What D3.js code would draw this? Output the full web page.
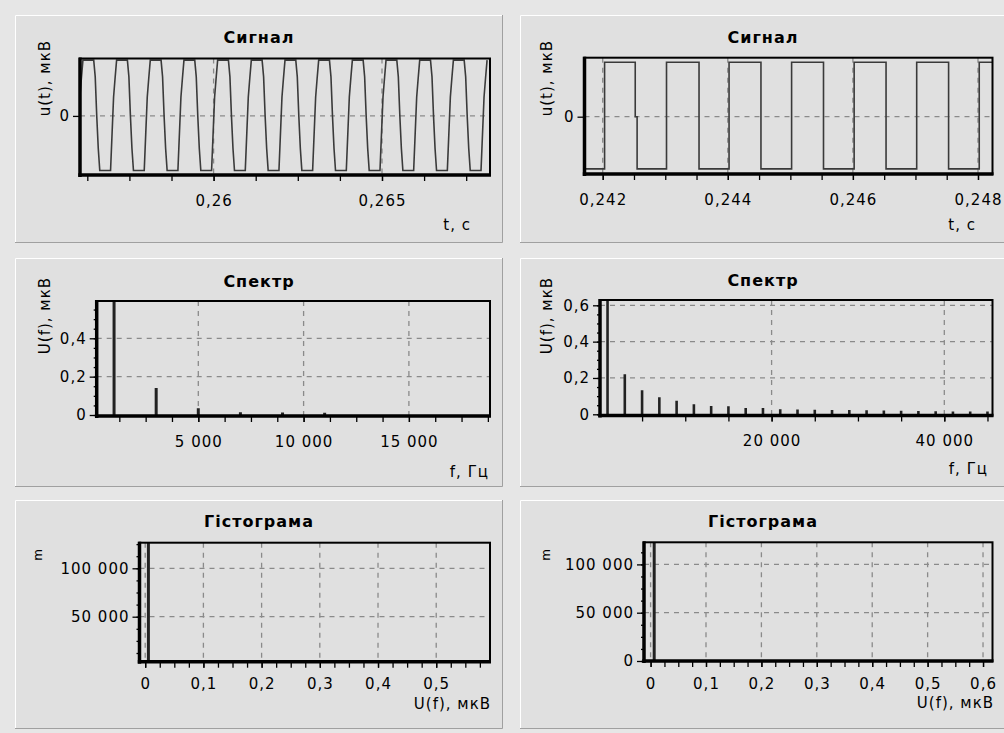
<!DOCTYPE html>
<html>
<head>
<meta charset="utf-8">
<script src="https://cdn.jsdelivr.net/npm/d3@7"></script>
<style>
  html, body { margin: 0; padding: 0; background: #e6e6e6; }
  svg { display: block; }
</style>
</head>
<body>
<svg id="chart" width="1004" height="733"></svg>
<script>
// ---------------- data ----------------

// Signal 1 (clipped sine, 1 kHz): one cycle, [ms from fall start, µV]
const sig1CycleShape = [
  [0, 0.5], [0.045, 0.35], [0.09, 0.0], [0.135, -0.29], [0.18, -0.49],
  [0.5, -0.49], [0.545, -0.16], [0.59, 0.17], [0.635, 0.34], [0.68, 0.5]
];
// start time of each cycle (s)
const sig1CycleStarts = [0.25544, 0.25644, 0.25744, 0.25844, 0.25944, 0.26044, 0.26144,
                         0.26244, 0.26344, 0.26444, 0.26544, 0.26644, 0.26744];
const sig1TimeTicks = [0.26, 0.265];
const sig1ValueTicks = [0];

// Signal 2 (square wave, 1 kHz): level before the first edge, edge times (s), level after each edge (µV)
const sig2StartLevel = -0.48;
const sig2EdgeTimes = [0.24203, 0.24252, 0.24255, 0.24302, 0.24354, 0.24402, 0.24453,
                       0.24502, 0.24553, 0.24602, 0.24653, 0.24702, 0.24753, 0.24802];
const sig2EdgeLevels = [0.5, 0, -0.48, 0.5, -0.48, 0.5, -0.48,
                        0.5, -0.48, 0.5, -0.48, 0.5, -0.48, 0.5];
const sig2TimeTicks = [0.242, 0.244, 0.246, 0.248];
const sig2ValueTicks = [0];

// Spectrum 1
const spec1Freq = [1000, 3000, 5000, 7000, 9000, 11000];
const spec1Amp  = [0.61, 0.141, 0.035, 0.014, 0.013, 0.012];
const spec1FreqTicks = [5000, 10000, 15000];
const spec1AmpTicks = [0, 0.2, 0.4];

// Spectrum 2
const spec2Freq = [1000, 3000, 5000, 7000, 9000, 11000, 13000, 15000, 17000, 19000, 21000, 23000,
                   25000, 27000, 29000, 31000, 33000, 35000, 37000, 39000, 41000, 43000, 45000];
const spec2Amp  = [0.64, 0.220, 0.132, 0.094, 0.075, 0.055, 0.046, 0.044, 0.035, 0.035, 0.028, 0.027,
                   0.025, 0.024, 0.023, 0.022, 0.021, 0.020, 0.018, 0.017, 0.016, 0.015, 0.015];
const spec2FreqTicks = [20000, 40000];
const spec2AmpTicks = [0, 0.2, 0.4, 0.6];

// Histograms of spectral amplitude
const hist1Bins = [0.0055];
const hist1Counts = [131000];
const hist1ValueTicks = [0, 0.1, 0.2, 0.3, 0.4, 0.5];
const hist1CountTicks = [50000, 100000];

const hist2Bins = [0.0065];
const hist2Counts = [131000];
const hist2ValueTicks = [0, 0.1, 0.2, 0.3, 0.4, 0.5, 0.6];
const hist2CountTicks = [0, 50000, 100000];

// ---------------- drawing ----------------
const svg = d3.select("#chart");
const FONT = "'DejaVu Sans', Verdana, sans-serif";
const locale = d3.formatLocale({ decimal: ",", thousands: "\u00a0", grouping: [3], currency: ["", ""] });
const fmt = locale.format(",~f");

svg.append("rect").attr("width", 1004).attr("height", 733).attr("fill", "#e6e6e6");

function drawPanel(x, y, w, h) {
  svg.append("rect").attr("x", x).attr("y", y).attr("width", w).attr("height", h).attr("fill", "#e0e0e0");
  svg.append("path").attr("d", `M${x + 0.5},${y + h} V${y + 0.5} H${x + w}`)
    .attr("fill", "none").attr("stroke", "#ffffff").attr("stroke-width", 1);
  svg.append("path").attr("d", `M${x + w - 0.5},${y} V${y + h - 0.5} H${x}`)
    .attr("fill", "none").attr("stroke", "#a0a0a0").attr("stroke-width", 1);
}

function stepValues(domain, step) {
  const lo = Math.ceil(domain[0] / step - 1e-9), hi = Math.floor(domain[1] / step + 1e-9);
  return d3.range(lo, hi + 1).map(k => +(k * step).toPrecision(10));
}

let clipId = 0;
function drawPlot(c) {
  const x = d3.scaleLinear().domain(c.xDomain).range([c.x0, c.x1]);
  const y = d3.scaleLinear().domain(c.yDomain).range([c.y1, c.y0]);
  const g = svg.append("g");

  // title
  g.append("text").attr("x", c.titleX).attr("y", c.titleY)
    .attr("text-anchor", "middle").attr("font-family", FONT).attr("font-weight", "bold")
    .attr("font-size", 16).attr("letter-spacing", 1).attr("fill", "#000").text(c.title);

  // y axis label (rotated)
  g.append("text").attr("transform", `translate(${c.yLabelX},${c.yLabelY}) rotate(-90)`)
    .attr("text-anchor", "end").attr("font-family", FONT).attr("font-size", c.yLabelSize || 15)
    .attr("letter-spacing", 1).attr("fill", "#000").text(c.yLabel);

  // x axis label
  g.append("text").attr("x", c.xLabelX).attr("y", c.xLabelY)
    .attr("text-anchor", "end").attr("font-family", FONT).attr("font-size", 15)
    .attr("letter-spacing", 1).attr("fill", "#000").text(c.xLabel);

  // grid
  const grid = g.append("g").attr("stroke", "#8a8a8a").attr("stroke-width", 1.3)
    .attr("stroke-dasharray", "5,5");
  c.xGrid.forEach(v => grid.append("line").attr("x1", x(v)).attr("x2", x(v)).attr("y1", c.y0).attr("y2", c.y1));
  c.yGrid.forEach(v => grid.append("line").attr("x1", c.x0).attr("x2", c.x1).attr("y1", y(v)).attr("y2", y(v)));

  // ticks: minor
  if (c.xMinor) {
    g.append("g").attr("transform", `translate(0,${c.y1})`)
      .call(d3.axisBottom(x).tickValues(stepValues(c.xDomain, c.xMinor)).tickSize(6).tickFormat(""))
      .call(a => a.select(".domain").remove())
      .call(a => a.selectAll("line").attr("stroke", "#000").attr("stroke-width", 1.3));
  }
  if (c.yMinor) {
    g.append("g").attr("transform", `translate(${c.x0},0)`)
      .call(d3.axisLeft(y).tickValues(stepValues(c.yDomain, c.yMinor)).tickSize(3).tickFormat(""))
      .call(a => a.select(".domain").remove())
      .call(a => a.selectAll("line").attr("stroke", "#000").attr("stroke-width", 1.3));
  }
  // ticks: major with labels
  g.append("g").attr("transform", `translate(0,${c.y1})`)
    .call(d3.axisBottom(x).tickValues(c.xTicks).tickSize(6).tickPadding(c.xPad || 14).tickFormat(fmt))
    .call(a => a.select(".domain").remove())
    .call(a => a.selectAll("line").attr("stroke", "#000").attr("stroke-width", 1.3))
    .call(a => a.selectAll("text").attr("font-family", FONT).attr("font-size", 15)
      .attr("letter-spacing", 1).attr("fill", "#000"));
  g.append("g").attr("transform", `translate(${c.x0},0)`)
    .call(d3.axisLeft(y).tickValues(c.yTicks).tickSize(7).tickPadding(3).tickFormat(fmt))
    .call(a => a.select(".domain").remove())
    .call(a => a.selectAll("line").attr("stroke", "#000").attr("stroke-width", 1.3))
    .call(a => a.selectAll("text").attr("font-family", FONT).attr("font-size", 15)
      .attr("letter-spacing", 1).attr("fill", "#000"));

  // clipped data layer
  const id = "clip" + (clipId++);
  svg.append("clipPath").attr("id", id).append("rect")
    .attr("x", c.x0).attr("y", c.y0).attr("width", c.x1 - c.x0).attr("height", c.y1 - c.y0);
  const data = g.append("g").attr("clip-path", `url(#${id})`);
  c.draw(data, x, y);

  // frame: thin top/right, heavy left/bottom
  g.append("rect").attr("x", c.x0).attr("y", c.y0).attr("width", c.x1 - c.x0).attr("height", c.y1 - c.y0)
    .attr("fill", "none").attr("stroke", "#000").attr("stroke-width", 2);
  g.append("line").attr("x1", c.x0).attr("x2", c.x0).attr("y1", c.y0 - 1).attr("y2", c.y1 + 2)
    .attr("stroke", "#000").attr("stroke-width", 3.5);
  g.append("line").attr("x1", c.x0 - 1.7).attr("x2", c.x1 + 1).attr("y1", c.y1).attr("y2", c.y1)
    .attr("stroke", "#000").attr("stroke-width", 3.5);
}

// panels
drawPanel(15, 15, 488, 228);
drawPanel(520, 15, 488, 228);
drawPanel(15, 258, 488, 229);
drawPanel(520, 258, 488, 229);
drawPanel(15, 500, 488, 229);
drawPanel(520, 500, 488, 229);

const lineStyle = sel => sel.attr("fill", "none").attr("stroke", "#3a3a3a").attr("stroke-width", 1.6)
  .attr("stroke-linejoin", "miter");

// Signal 1
drawPlot({
  x0: 80, x1: 490, y0: 58.5, y1: 175,
  xDomain: [0.256033, 0.268207], yDomain: [-0.53, 0.515],
  xTicks: sig1TimeTicks, yTicks: sig1ValueTicks, xMinor: 0.00125, yMinor: null,
  xGrid: sig1TimeTicks, yGrid: sig1ValueTicks,
  title: "Сигнал", titleX: 259, titleY: 43,
  yLabel: "u(t), мкВ", yLabelX: 50, yLabelY: 40,
  xLabel: "t, c", xLabelX: 471, xLabelY: 230,
  draw: (g, x, y) => {
    const pts = [];
    sig1CycleStarts.forEach(t0 => sig1CycleShape.forEach(([dt, u]) => pts.push([t0 + dt / 1000, u])));
    g.append("path").datum(pts).attr("d", d3.line().x(d => x(d[0])).y(d => y(d[1]))).call(lineStyle);
  }
});

// Signal 2
drawPlot({
  x0: 584.5, x1: 992.5, y0: 57.7, y1: 174,
  xDomain: [0.2417088, 0.248232], yDomain: [-0.5267, 0.5423],
  xTicks: sig2TimeTicks, yTicks: sig2ValueTicks, xMinor: 0.0005, yMinor: null,
  xGrid: sig2TimeTicks, yGrid: sig2ValueTicks,
  title: "Сигнал", titleX: 763, titleY: 43,
  yLabel: "u(t), мкВ", yLabelX: 552, yLabelY: 40,
  xLabel: "t, c", xLabelX: 976, xLabelY: 230,
  draw: (g, x, y) => {
    const d0 = x.domain()[0], d1 = x.domain()[1];
    const pts = [[d0, sig2StartLevel]];
    let level = sig2StartLevel;
    sig2EdgeTimes.forEach((t, i) => {
      pts.push([t, level]);
      level = sig2EdgeLevels[i];
      pts.push([t, level]);
    });
    pts.push([d1, level]);
    g.append("path").datum(pts).attr("d", d3.line().x(d => x(d[0])).y(d => y(d[1]))).call(lineStyle);
  }
});

function drawBars(g, x, y, xs, vs, width) {
  g.selectAll(null).data(xs).join("line")
    .attr("x1", d => x(d)).attr("x2", d => x(d))
    .attr("y1", y(0)).attr("y2", (d, i) => y(vs[i]))
    .attr("stroke", "#222").attr("stroke-width", width);
}

// Spectrum 1
drawPlot({
  x0: 96.7, x1: 490, y0: 301, y1: 416,
  xDomain: [175.7, 18851], yDomain: [-0.0052, 0.5945],
  xTicks: spec1FreqTicks, yTicks: spec1AmpTicks, xMinor: 1250, yMinor: 0.05,
  xGrid: spec1FreqTicks, yGrid: [0.2, 0.4],
  title: "Спектр", titleX: 259, titleY: 287,
  yLabel: "U(f), мкВ", yLabelX: 50, yLabelY: 277,
  xLabel: "f, Гц", xLabelX: 489, xLabelY: 477,
  draw: (g, x, y) => drawBars(g, x, y, spec1Freq, spec1Amp, 3)
});

// Spectrum 2
drawPlot({
  x0: 600, x1: 992.5, y0: 300, y1: 415.5,
  xDomain: [127, 45582], yDomain: [-0.0066, 0.6292],
  xTicks: spec2FreqTicks, yTicks: spec2AmpTicks, xMinor: 5000, yMinor: 0.05,
  xGrid: spec2FreqTicks, yGrid: [0.2, 0.4, 0.6],
  title: "Спектр", titleX: 763, titleY: 286,
  yLabel: "U(f), мкВ", yLabelX: 552, yLabelY: 277,
  xLabel: "f, Гц", xLabelX: 988, xLabelY: 474,
  draw: (g, x, y) => drawBars(g, x, y, spec2Freq, spec2Amp, 2.6)
});

function drawHist(g, x, y, bins, counts) {
  g.selectAll(null).data(bins).join("line")
    .attr("x1", d => x(d)).attr("x2", d => x(d))
    .attr("y1", y.range()[0]).attr("y2", (d, i) => y(counts[i]))
    .attr("stroke", "#222").attr("stroke-width", 3);
}

// Histogram 1
drawPlot({
  x0: 139.5, x1: 490, y0: 542.7, y1: 661.7,
  xDomain: [-0.0098, 0.5924], yDomain: [3512, 126446],
  xTicks: hist1ValueTicks, yTicks: hist1CountTicks, xMinor: 0.025, yMinor: 12500, xPad: 11,
  xGrid: hist1ValueTicks, yGrid: hist1CountTicks,
  title: "Гістограма", titleX: 259, titleY: 527,
  yLabel: "m", yLabelX: 42, yLabelY: 548, yLabelSize: 12,
  xLabel: "U(f), мкВ", xLabelX: 491, xLabelY: 709,
  draw: (g, x, y) => drawHist(g, x, y, hist1Bins, hist1Counts)
});

// Histogram 2
drawPlot({
  x0: 644, x1: 992.5, y0: 542.3, y1: 661,
  xDomain: [-0.0119, 0.6171], yDomain: [0, 122878],
  xTicks: hist2ValueTicks, yTicks: hist2CountTicks, xMinor: 0.025, yMinor: 12500, xPad: 11,
  xGrid: hist2ValueTicks, yGrid: [50000, 100000],
  title: "Гістограма", titleX: 763, titleY: 527,
  yLabel: "m", yLabelX: 550, yLabelY: 548, yLabelSize: 12,
  xLabel: "U(f), мкВ", xLabelX: 994, xLabelY: 708,
  draw: (g, x, y) => drawHist(g, x, y, hist2Bins, hist2Counts)
});
</script>
</body>
</html>
